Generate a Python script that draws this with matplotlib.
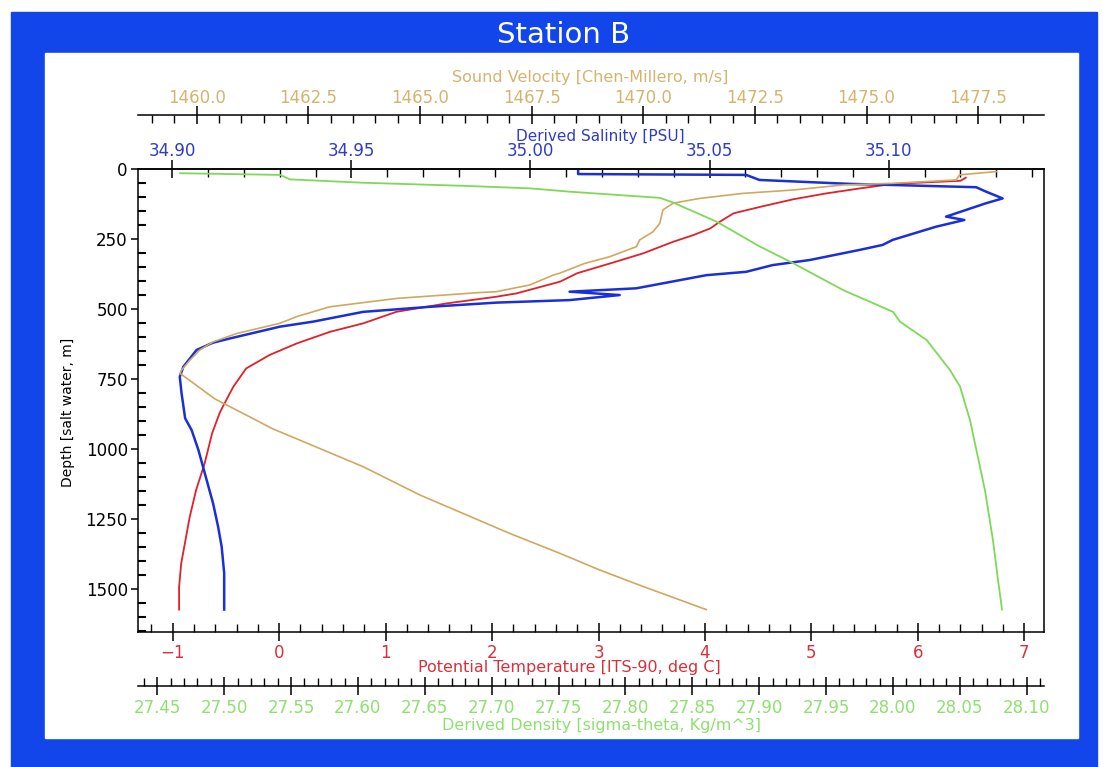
import matplotlib
matplotlib.use("Agg")
import matplotlib.pyplot as plt
from matplotlib.patches import Rectangle
from matplotlib.ticker import MultipleLocator, FormatStrFormatter

plt.rcParams['font.family'] = ['DejaVu Sans']

# ---- profile data (depth in m) ----
depth_temp = [30, 41, 52, 68, 86, 107, 134, 157, 187, 211, 235, 259, 300, 336, 371, 401,
              443, 455, 479, 509, 550, 580, 621, 663, 711, 776, 848, 871, 943, 1050,
              1145, 1241, 1324, 1407, 1491, 1572]
temp = [6.45, 6.40, 5.77, 5.46, 5.14, 4.83, 4.52, 4.27, 4.14, 4.05, 3.89, 3.70, 3.42, 3.11,
        2.80, 2.64, 2.23, 2.04, 1.57, 1.10, 0.79, 0.48, 0.17, -0.09, -0.31, -0.43, -0.53,
        -0.56, -0.63, -0.70, -0.78, -0.84, -0.88, -0.92, -0.94, -0.94]

depth_sal = [2, 17, 20, 38, 52, 56, 64, 80, 104, 121, 145, 169, 181, 205, 252, 270, 288,
             324, 342, 366, 378, 425, 437, 449, 467, 476, 491, 509, 544, 562, 604, 619,
             645, 705, 741, 800, 889, 931, 1002, 1086, 1193, 1276, 1348, 1443, 1572]
sal = [35.0133, 35.0133, 35.0602, 35.0639, 35.0890, 35.1011, 35.1244, 35.1272, 35.1318,
       35.1272, 35.1216, 35.1160, 35.1211, 35.1132, 35.1011, 35.0983, 35.0918, 35.0779,
       35.0676, 35.0602, 35.0491, 35.0295, 35.0109, 35.0249, 35.0109, 34.9905, 34.9719,
       34.9533, 34.9393, 34.9300, 34.9161, 34.9114, 34.9068, 34.9031, 34.9021, 34.9026,
       34.9036, 34.9054, 34.9073, 34.9091, 34.9114, 34.9128, 34.9138, 34.9145, 34.9145]

depth_sv = [8, 20, 38, 50, 56, 74, 86, 104, 121, 145, 193, 223, 252, 276, 312, 336, 371,
            378, 413, 437, 440, 461, 491, 526, 550, 586, 616, 645, 681, 717, 729, 820,
            889, 925, 1062, 1163, 1300, 1371, 1431, 1485, 1572]
sound_vel = [1477.91, 1477.08, 1477.01, 1475.59, 1474.47, 1473.35, 1472.23, 1471.26,
             1470.67, 1470.44, 1470.37, 1470.22, 1469.92, 1469.85, 1469.25, 1468.69,
             1468.13, 1467.98, 1467.46, 1466.71, 1466.34, 1464.48, 1462.98, 1462.24,
             1461.86, 1460.90, 1460.37, 1460.07, 1459.85, 1459.66, 1459.63, 1460.41,
             1461.25, 1461.68, 1463.73, 1465.00, 1467.01, 1468.13, 1469.03, 1469.92,
             1471.41]

depth_dens = [14, 20, 36, 48, 59, 68, 80, 102, 119, 187, 276, 335, 431, 509, 544, 610,
              717, 776, 895, 1145, 1324, 1467, 1572]
dens = [27.4670, 27.5417, 27.5492, 27.6040, 27.6788, 27.7287, 27.7586, 27.8259, 27.8358,
        27.8682, 27.9006, 27.9253, 27.9627, 28.0001, 28.0053, 28.0253, 28.0427, 28.0502,
        28.0576, 28.0688, 28.0748, 28.0786, 28.0816]

# colours
c_temp, c_temp_lbl = '#E0202A', '#D8303C'
c_sal, c_sal_lbl = '#1A2FD8', '#2F3CC8'
c_sv, c_sv_lbl = '#D0A860', '#D4B46E'
c_dens, c_dens_lbl = '#7ED957', '#8EE070'

W, H = 1103, 767
fig = plt.figure(figsize=(W / 100, H / 100), dpi=100)
fig.patch.set_facecolor('white')

# blue frame and white panel
fig.patches.append(Rectangle((11 / W, 0), 1086 / W, (H - 11.7) / H,
                             transform=fig.transFigure, color='#1246EA', zorder=0))
fig.patches.append(Rectangle((45 / W, (H - 738) / H), 1033 / W, 684.7 / H,
                             transform=fig.transFigure, color='white', zorder=1))
fig.text(564 / W, 1 - 35 / H, 'Station B', color='white', fontsize=21,
         ha='center', va='center')

ax = fig.add_axes([137.5 / W, (H - 631.7) / H, 906 / W, 462.4 / H])
ax.set_zorder(2)

# temperature (bottom) + depth
ax.plot(temp, depth_temp, color=c_temp, lw=1.3)
ax.set_xlim(-1.3307, 7.180)
ax.set_ylim(1651, 0)
ax.xaxis.set_major_locator(MultipleLocator(1))
ax.xaxis.set_minor_locator(MultipleLocator(0.2))
ax.yaxis.set_major_locator(MultipleLocator(250))
ax.yaxis.set_minor_locator(MultipleLocator(50))
ax.tick_params(axis='x', which='major', direction='inout', length=13, width=1.1,
               pad=2, labelsize=12, labelcolor=c_temp_lbl, top=False)
ax.tick_params(axis='x', which='minor', direction='in', length=6, width=1, top=False)
ax.tick_params(axis='y', which='major', direction='out', length=5, width=1.1,
               pad=2, labelsize=12, right=False)
ax.tick_params(axis='y', which='minor', direction='in', length=6, width=1.5, right=False)
ax.set_xlabel('Potential Temperature [ITS-90, deg C]', color=c_temp_lbl, fontsize=11.5)
ax.xaxis.set_label_coords(0.477, -0.0785)
ax.xaxis.label.set_va('center')
ax.set_ylabel('Depth [salt water, m]', fontsize=10)
ax.yaxis.set_label_coords(-0.0767, 0.475)
ax.yaxis.label.set_va('center')
for s in ax.spines.values():
    s.set_linewidth(1.1)

# salinity (top spine)
ax_s = ax.twiny()
ax_s.plot(sal, depth_sal, color=c_sal, lw=1.8)
ax_s.set_xlim(34.8903, 35.1432)
ax_s.xaxis.set_major_locator(MultipleLocator(0.05))
ax_s.xaxis.set_minor_locator(MultipleLocator(0.01))
ax_s.xaxis.set_major_formatter(FormatStrFormatter('%.2f'))
ax_s.tick_params(axis='x', which='major', direction='inout', length=13, width=1.1,
                 pad=0, labelsize=12, labelcolor=c_sal_lbl)
ax_s.tick_params(axis='x', which='minor', direction='in', length=6, width=1)
ax_s.set_xlabel('Derived Salinity [PSU]', color=c_sal_lbl, fontsize=11)
ax_s.xaxis.set_label_coords(0.511, 1.0705)
ax_s.xaxis.label.set_va('center')
for k in ['left', 'right', 'bottom']:
    ax_s.spines[k].set_visible(False)
ax_s.spines['top'].set_linewidth(1.1)

# sound velocity (detached top axis)
ax_v = ax.twiny()
ax_v.plot(sound_vel, depth_sv, color=c_sv, lw=1.2)
ax_v.set_xlim(1458.675, 1478.963)
ax_v.spines['top'].set_position(('axes', 1.1174))
ax_v.xaxis.set_major_locator(MultipleLocator(2.5))
ax_v.xaxis.set_minor_locator(MultipleLocator(0.5))
ax_v.xaxis.set_major_formatter(FormatStrFormatter('%.1f'))
ax_v.tick_params(axis='x', which='major', direction='inout', length=13, width=1.1,
                 pad=-1, labelsize=12, labelcolor=c_sv_lbl)
ax_v.tick_params(axis='x', which='minor', direction='in', length=6, width=1)
ax_v.set_xlabel('Sound Velocity [Chen-Millero, m/s]', color=c_sv_lbl, fontsize=11.5)
ax_v.xaxis.set_label_coords(0.5, 1.1996)
ax_v.xaxis.label.set_va('center')
for k in ['left', 'right', 'bottom']:
    ax_v.spines[k].set_visible(False)
ax_v.spines['top'].set_linewidth(1.1)

# density (detached bottom axis)
ax_d = ax.twiny()
ax_d.plot(dens, depth_dens, color=c_dens, lw=1.3)
ax_d.set_xlim(27.4352, 28.1126)
ax_d.xaxis.set_ticks_position('bottom')
ax_d.xaxis.set_label_position('bottom')
ax_d.spines['bottom'].set_position(('axes', -0.1174))
ax_d.spines['bottom'].set_visible(True)
ax_d.xaxis.set_major_locator(MultipleLocator(0.05))
ax_d.xaxis.set_minor_locator(MultipleLocator(0.01))
ax_d.xaxis.set_major_formatter(FormatStrFormatter('%.2f'))
ax_d.tick_params(axis='x', which='major', direction='inout', length=13, width=1.1,
                 pad=3, labelsize=12, labelcolor=c_dens_lbl)
ax_d.tick_params(axis='x', which='minor', direction='in', length=6, width=1)
ax_d.set_xlabel('Derived Density [sigma-theta, Kg/m^3]', color=c_dens_lbl, fontsize=11.5)
ax_d.xaxis.set_label_coords(0.512, -0.2018)
ax_d.xaxis.label.set_va('center')
for k in ['left', 'right', 'top']:
    ax_d.spines[k].set_visible(False)
ax_d.spines['bottom'].set_linewidth(1.1)

fig.savefig('out.png', dpi=100, facecolor=fig.get_facecolor())
